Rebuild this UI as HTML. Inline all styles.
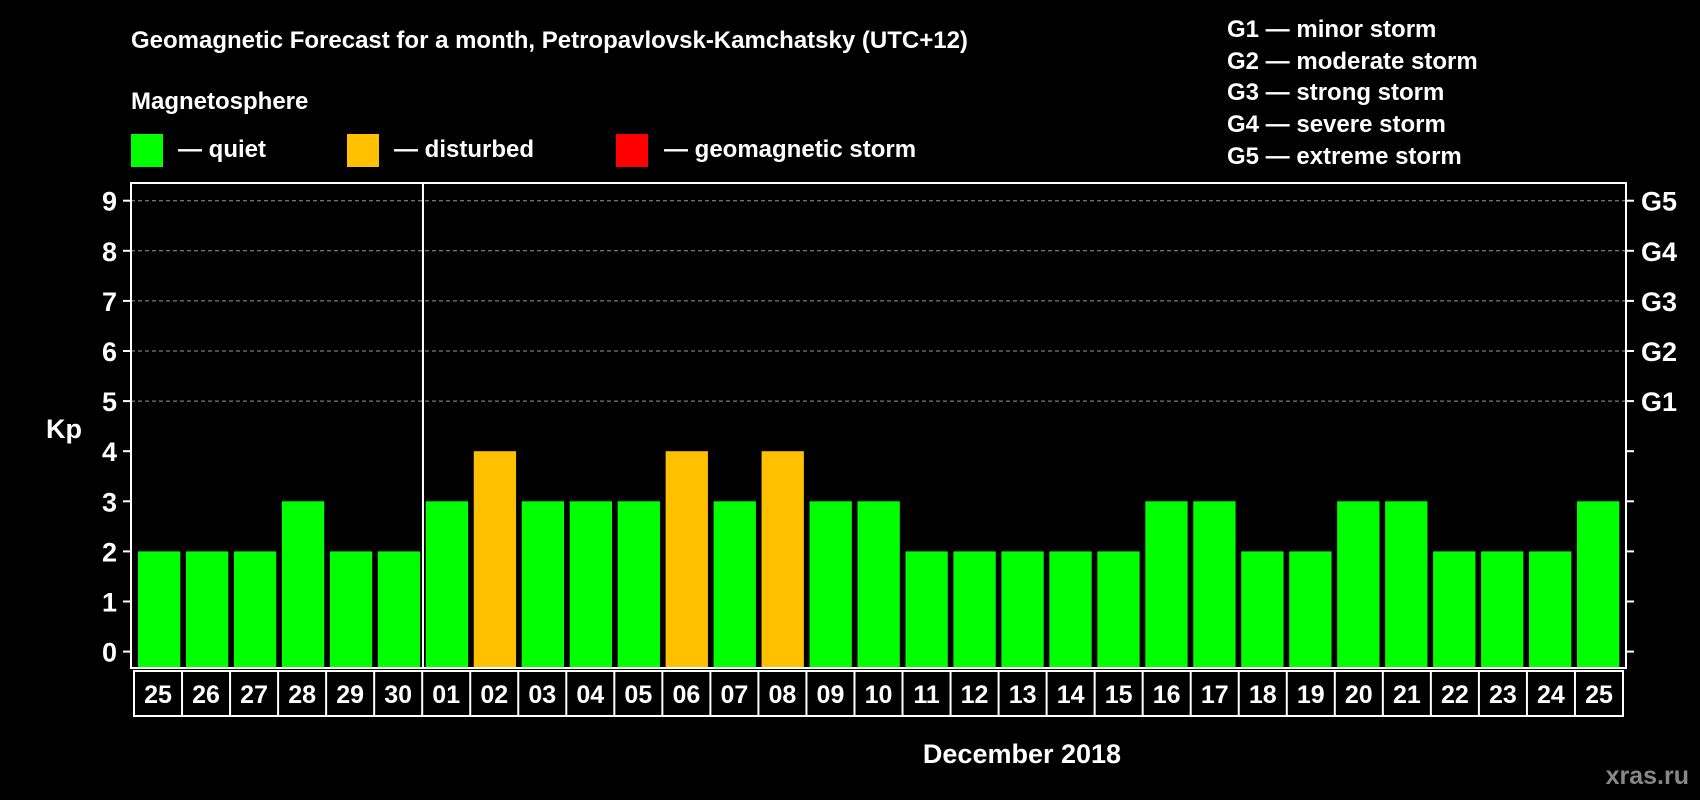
<!DOCTYPE html>
<html><head><meta charset="utf-8"><style>
html,body{margin:0;padding:0;background:#000;}
svg{display:block;font-family:"Liberation Sans",Arial,sans-serif;font-weight:bold;}
</style></head><body>
<svg id="chart" width="1700" height="800" viewBox="0 0 1700 800">
<rect x="0" y="0" width="1700" height="800" fill="#000"/>
<text x="131" y="48" fill="#fff" font-size="24">Geomagnetic Forecast for a month, Petropavlovsk-Kamchatsky (UTC+12)</text>
<text x="131" y="109" fill="#fff" font-size="24">Magnetosphere</text>
<rect x="131" y="134" width="32" height="33" fill="#00ff00"/>
<text x="178" y="157" fill="#fff" font-size="24">— quiet</text>
<rect x="347" y="134" width="32" height="33" fill="#ffc000"/>
<text x="394" y="157" fill="#fff" font-size="24">— disturbed</text>
<rect x="616" y="134" width="32" height="33" fill="#ff0000"/>
<text x="664" y="157" fill="#fff" font-size="24">— geomagnetic storm</text>
<g font-size="24" fill="#fff">
<text x="1227" y="37">G1 — minor storm</text>
<text x="1227" y="69">G2 — moderate storm</text>
<text x="1227" y="100">G3 — strong storm</text>
<text x="1227" y="132">G4 — severe storm</text>
<text x="1227" y="164">G5 — extreme storm</text>
</g>
<text x="64" y="438" fill="#fff" font-size="27" text-anchor="middle">Kp</text>
<text x="1022" y="763" fill="#fff" font-size="27" text-anchor="middle">December 2018</text>
<text x="1689" y="784" fill="#888" font-size="25" text-anchor="end">xras.ru</text>
<g id="grid"></g><g id="bars"></g><g id="axes"></g>
</svg>
<script>
const days = ["25","26","27","28","29","30","01","02","03","04","05","06","07","08","09","10","11","12","13","14","15","16","17","18","19","20","21","22","23","24","25"];
const kp = [2,2,2,3,2,2,3,4,3,3,3,4,3,4,3,3,2,2,2,2,2,3,3,2,2,3,3,2,2,2,3];
const yTicks = [0,1,2,3,4,5,6,7,8,9];
const gLabels = ["G1","G2","G3","G4","G5"];
const gLevels = [5,6,7,8,9];

const NS = "http://www.w3.org/2000/svg";
const L = 131, R = 1626, T = 183, B = 668;
const y0 = 651.6, unit = 50.1;
const pitch = (1577 - 138) / (days.length - 1);
const bw = 42.3, bx0 = 138;
function yS(v){ return y0 - v*unit; }
function xS(i){ return bx0 + i*pitch; }
function mk(tag, attrs, parent){
  const e = document.createElementNS(NS, tag);
  for (const k in attrs) e.setAttribute(k, attrs[k]);
  parent.appendChild(e); return e;
}
const grid = document.getElementById('grid'), bars = document.getElementById('bars'), axes = document.getElementById('axes');

gLevels.forEach(v => {
  const ln = mk('line', {x1:L, x2:R, y1:yS(v), y2:yS(v), stroke:'#999', 'stroke-width':1, 'stroke-dasharray':'4,3'}, grid);
  
  
});

kp.forEach((v, i) => {
  const c = v >= 5 ? '#ff0000' : (v >= 4 ? '#ffc000' : '#00ff00');
  const r = mk('rect', {x:xS(i), y:yS(v), width:bw, height:(B-1)-yS(v), fill:c}, bars);
  
  
});

const frame = mk('rect', {x:L, y:T, width:R-L, height:B-T, fill:'none', stroke:'#fff', 'stroke-width':2}, axes);


const sepX = (xS(5) + bw + xS(6)) / 2;
const sep = mk('line', {x1:sepX, x2:sepX, y1:T, y2:B, stroke:'#fff', 'stroke-width':2}, axes);



yTicks.forEach(v => {
  const y = yS(v);
  mk('line', {x1:L-8, x2:L, y1:y, y2:y, stroke:'#fff', 'stroke-width':2}, axes);
  mk('line', {x1:R, x2:R+8, y1:y, y2:y, stroke:'#fff', 'stroke-width':2}, axes);
  const t = mk('text', {x:117, y:y+10, fill:'#fff', 'font-size':27, 'text-anchor':'end'}, axes);
  t.textContent = v;
  
  
});
gLevels.forEach((v, i) => {
  const t = mk('text', {x:1641, y:yS(v)+10, fill:'#fff', 'font-size':27}, axes);
  t.textContent = gLabels[i];
  
  
});

const boxL = 134, boxR = 1623, boxT = 671, boxB = 716;
const cw = (boxR - boxL) / days.length;
const box = mk('rect', {x:boxL, y:boxT, width:boxR-boxL, height:boxB-boxT, fill:'none', stroke:'#fff', 'stroke-width':2}, axes);


days.forEach((d, i) => {
  if (i > 0) mk('line', {x1:boxL+i*cw, x2:boxL+i*cw, y1:boxT, y2:boxB, stroke:'#fff', 'stroke-width':2}, axes);
  const t = mk('text', {x:boxL+(i+0.5)*cw, y:boxT+32, fill:'#fff', 'font-size':25, 'text-anchor':'middle'}, axes);
  t.textContent = d;
  
  
});
</script>
</body></html>
